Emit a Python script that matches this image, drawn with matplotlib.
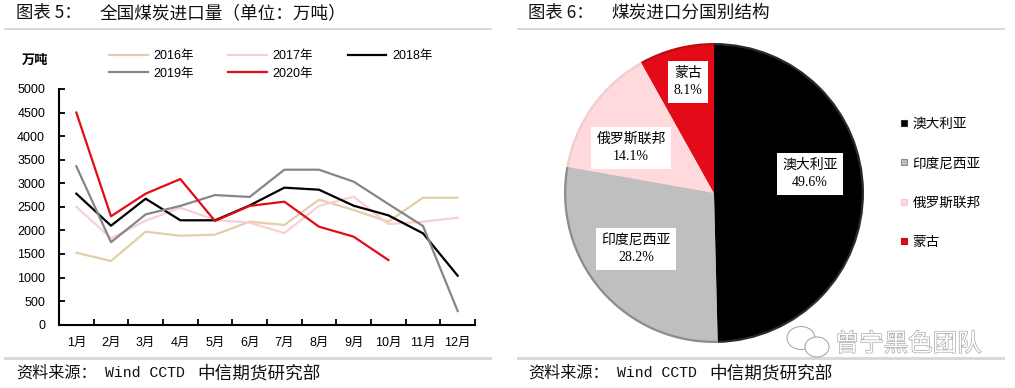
import matplotlib
matplotlib.use("Agg")
import matplotlib.pyplot as plt
import matplotlib.patheffects as pe
from matplotlib.patches import Ellipse, Rectangle
from matplotlib.lines import Line2D

W, H = 1015, 388

sans = ["Liberation Sans", "Noto Sans CJK SC"]
serif = ["Liberation Serif", "Noto Sans CJK SC"]
mono = ["Liberation Mono", "Noto Sans CJK SC"]
cjk = ["Noto Sans CJK SC", "DejaVu Sans"]

months = ["1月", "2月", "3月", "4月", "5月", "6月", "7月", "8月", "9月", "10月", "11月", "12月"]
y2016 = [1527, 1351, 1973, 1888, 1910, 2185, 2115, 2652, 2433, 2185, 2694, 2694]
y2017 = [2503, 1833, 2206, 2482, 2220, 2164, 1945, 2518, 2716, 2136, 2185, 2270]
y2018 = [2780, 2100, 2673, 2215, 2215, 2530, 2907, 2864, 2524, 2320, 1938, 1040]
y2019 = [3360, 1750, 2340, 2520, 2750, 2710, 3288, 3288, 3034, 2560, 2094, 290]
y2020 = [4500, 2300, 2780, 3090, 2200, 2520, 2610, 2079, 1867, 1372]
yticks = [0, 500, 1000, 1500, 2000, 2500, 3000, 3500, 4000, 4500, 5000]

countries = ["澳大利亚", "印度尼西亚", "俄罗斯联邦", "蒙古"]
shares = [49.6, 28.2, 14.1, 8.1]
pie_colors = ["#000000", "#BFBFBF", "#FFD9DC", "#E30B17"]
rim_colors = ["#2A2A2A", "#8C8C8C", "#EFCDD0", "#C00A12"]


def box(left, top, right, bottom):
    return [left / W, 1 - bottom / H, (right - left) / W, (bottom - top) / H]


fig = plt.figure(figsize=(W / 100, H / 100), dpi=100)

# overlay in pixel coords for titles, rules and source lines
bg = fig.add_axes([0, 0, 1, 1])
bg.set_xlim(0, W)
bg.set_ylim(H, 0)
bg.axis("off")

for x0 in [4, 517]:
    bg.add_patch(Rectangle((x0, 27.5), 488, 2.5, color="#D9D9D9", lw=0))
    bg.add_patch(Rectangle((x0, 357), 488, 2.5, color="#D9D9D9", lw=0))

bg.text(16, 13, "图表 5\uff1a", fontsize=12.5, family=cjk, va="center", color="#111111")
bg.text(100, 13, "全国煤炭进口量\uff08单位\uff1a万吨\uff09", fontsize=12.7, family=cjk, va="center", color="#111111")
bg.text(528, 13, "图表 6\uff1a", fontsize=12.5, family=cjk, va="center", color="#111111")
bg.text(611, 13, "煤炭进口分国别结构", fontsize=12.7, family=cjk, va="center", color="#111111")
for x0 in [16, 528]:
    bg.text(x0, 373, "资料来源\uff1a", fontsize=11.6, family=cjk, va="center", color="#111111")
    bg.text(x0 + 89, 373, "Wind CCTD", fontsize=10.7, family=mono, va="center", color="#111111")
    bg.text(x0 + 181, 373, "中信期货研究部", fontsize=12.7, family=cjk, va="center", color="#111111")
bg.text(22, 60, "万吨", fontsize=9.5, family=cjk, fontweight="bold", va="center")

# line chart
ax = fig.add_axes(box(59, 89, 475, 324.7))
x = list(range(12))
l16, = ax.plot(x, y2016, color="#E2CFA8", lw=1.6, label="2016年")
l17, = ax.plot(x, y2017, color="#FBCFD2", lw=1.6, label="2017年")
l18, = ax.plot(x, y2018, color="#000000", lw=1.6, label="2018年")
l19, = ax.plot(x, y2019, color="#868686", lw=1.6, label="2019年")
l20, = ax.plot(range(len(y2020)), y2020, color="#E00C16", lw=1.6, label="2020年")

ax.set_xlim(-0.5, 11.5)
ax.set_ylim(0, 5000)
ax.set_yticks(yticks)
ax.set_xticks([i - 0.5 for i in range(13)])
ax.set_xticklabels([])
ax.set_xticks(x, minor=True)
ax.set_xticklabels(months, minor=True, family=sans, fontsize=9)
ax.tick_params(axis="x", which="major", direction="in", length=4, width=1.3)
ax.tick_params(axis="x", which="minor", length=0, pad=9)
ax.tick_params(axis="y", direction="in", length=4, width=1.3, labelsize=9, pad=10)
for t in ax.get_yticklabels():
    t.set_family(sans)
ax.spines["top"].set_visible(False)
ax.spines["right"].set_visible(False)
ax.spines["left"].set_linewidth(1.5)
ax.spines["bottom"].set_linewidth(1.5)
ax.patch.set_alpha(0)

fig.legend(
    [l16, l19, l17, l20, l18],
    [l.get_label() for l in [l16, l19, l17, l20, l18]],
    ncol=3, frameon=False, loc="upper left",
    bbox_to_anchor=(109 / W, 1 - 50 / H), borderaxespad=0, borderpad=0,
    prop={"family": sans, "size": 9},
    handlelength=3.1, handletextpad=0.45, columnspacing=2.75, labelspacing=0.45,
)

# pie chart
pie = fig.add_axes(box(564, 43, 864, 343))
pie.pie(shares, colors=rim_colors, startangle=90, counterclock=False, radius=1)
pie.pie(shares, colors=pie_colors, startangle=90, counterclock=False, radius=0.985)
pie.set_xlim(-1, 1)
pie.set_ylim(-1, 1)
pie.set_aspect("equal")

label_pos = [(810, 174), (636, 249), (631, 148), (688, 82)]
for name, share, (px, py) in zip(countries, shares, label_pos):
    pie.annotate(
        f"{name}\n{share:.1f}%", xy=(px / W, 1 - py / H), xycoords="figure fraction",
        ha="center", va="center", fontsize=10, family=serif, linespacing=1.4,
        bbox={"facecolor": "white", "edgecolor": "none", "pad": 4},
    )

legend_handles = [
    Line2D([], [], ls="", marker="s", ms=5, mfc=c, mec=r, mew=0.8)
    for c, r in zip(pie_colors, rim_colors)
]
fig.legend(
    legend_handles, countries, loc="upper left", frameon=False,
    bbox_to_anchor=(899 / W, 1 - 117 / H), borderaxespad=0, borderpad=0,
    prop={"family": cjk, "size": 9.8},
    handlelength=0.8, handletextpad=0.2, labelspacing=1.85,
)

# watermark
over = fig.add_axes([0, 0, 1, 1])
over.set_xlim(0, W)
over.set_ylim(H, 0)
over.axis("off")
over.add_patch(Ellipse((801, 338), 28, 23, fc="white", ec="#AAAAAA", lw=0.8))
over.add_patch(Ellipse((817, 347), 24, 20, fc="white", ec="#AAAAAA", lw=0.8))
over.text(908, 344, "曾宁黑色团队", fontsize=17.6, family=cjk, ha="center", va="center",
          color="white", path_effects=[pe.withStroke(linewidth=0.9, foreground="#A0A0A0")])

fig.savefig("out.png", dpi=100)
